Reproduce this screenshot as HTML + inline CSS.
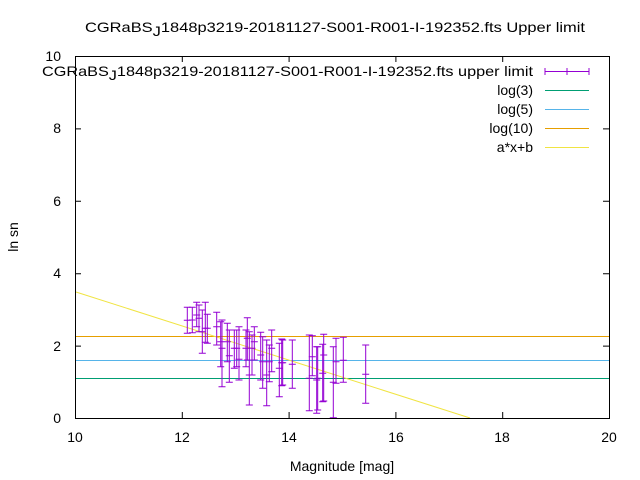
<!DOCTYPE html>
<html><head><meta charset="utf-8"><style>
body{margin:0;background:#fff}
svg{display:block;font-family:"Liberation Sans",sans-serif;font-size:14px}
</style></head><body>
<svg id="s" width="640" height="480" viewBox="0 0 640 480">
<rect width="640" height="480" fill="#fff"/>
<text x="85" y="32" textLength="500" lengthAdjust="spacingAndGlyphs" fill="#000">CGRaBS<tspan dy="4">J</tspan><tspan dy="-4">1848p3219-20181127-S001-R001-I-192352.fts Upper limit</tspan></text>
<g id="g"></g>
<rect x="75.5" y="56.5" width="534" height="362" fill="none" stroke="#000"/>
<g fill="#000" font-size="14">
<text x="61" y="423" text-anchor="end">0</text>
<text x="61" y="351" text-anchor="end">2</text>
<text x="61" y="278" text-anchor="end">4</text>
<text x="61" y="206" text-anchor="end">6</text>
<text x="61" y="133" text-anchor="end">8</text>
<text x="61" y="61" text-anchor="end">10</text>
<text x="75" y="442" text-anchor="middle">10</text>
<text x="182" y="442" text-anchor="middle">12</text>
<text x="289" y="442" text-anchor="middle">14</text>
<text x="396" y="442" text-anchor="middle">16</text>
<text x="502" y="442" text-anchor="middle">18</text>
<text x="609" y="442" text-anchor="middle">20</text>
<text x="342" y="471" text-anchor="middle">Magnitude [mag]</text>
<text transform="translate(18,237) rotate(-90)" text-anchor="middle">ln sn</text>
<text x="42" y="76" textLength="491" lengthAdjust="spacingAndGlyphs">CGRaBS<tspan dy="4">J</tspan><tspan dy="-4">1848p3219-20181127-S001-R001-I-192352.fts upper limit</tspan></text>
<text x="533" y="95" text-anchor="end">log(3)</text>
<text x="533" y="114" text-anchor="end">log(5)</text>
<text x="533" y="133" text-anchor="end">log(10)</text>
<text x="533" y="152" text-anchor="end">a*x+b</text>
</g>
<g stroke-width="1">
<path d="M545 71.5H589M545 68v7M589 68v7M567 68v7" stroke="#9400d3"/>
<path d="M545 90.5H589" stroke="#009e73"/>
<path d="M545 109.5H589" stroke="#56b4e9"/>
<path d="M545 128.5H589" stroke="#e69f00"/>
<path d="M545 147.5H589" stroke="#f0e442"/>
</g>
</svg>
<script>
var g=document.getElementById('g'),h='';
function L(d,c){h+='<path d="'+d+'" stroke="'+c+'" fill="none" stroke-width="1"/>';}
for(var i=0;i<=5;i++){var x=75.5+i*106.8;L('M'+x+' 418V412M'+x+' 56V62','#000');var y=418.5-i*72.4;L('M75 '+y+'H81M609 '+y+'H603','#000');}
L('M76 378.5H609','#009e73');
L('M76 360.5H609','#56b4e9');
L('M76 336.5H609','#e69f00');
L('M76 292L470 418','#f0e442');
var b=[[52,37,115,76],[67,37,113,75],[80,22,95,60],[87,30,110,70],[97,45,175,110],[106,22,142,100],[112,58,145,100],[140,52,150,95],[152,80,215,140],[156,75,275,160],[172,85,200,140],[178,105,262,182],[193,105,220,160],[200,105,215,160],[207,95,255,193],[228,105,215,160],[232,68,195,130],[238,110,330,240],[246,120,240,160],[253,95,195,140],[272,112,255,180],[278,125,280,200],[290,135,332,240],[298,150,260,200],[305,105,230,160],[328,145,305,220],[335,132,272,203],[338,135,270,203],[367,135,280,208],[418,120,347,250],[427,122,242,185],[440,155,355,255],[443,155,345,250],[458,148,320,235],[461,118,318,180],[490,155,368,262],[498,130,265,200],[520,127,262,196],[587,150,325,238]];
b.forEach(function(p){var x=(170+p[0]/3).toFixed(1),t=(295+p[1]/3).toFixed(1),u=(295+p[2]/3).toFixed(1),c=(295+p[3]/3).toFixed(1);
L('M'+x+' '+t+'V'+u+'M'+(x-3.5)+' '+t+'h7M'+(x-3.5)+' '+u+'h7M'+(x-3.5)+' '+c+'h7','#9400d3');});
g.innerHTML=h;
</script>
</body></html>
